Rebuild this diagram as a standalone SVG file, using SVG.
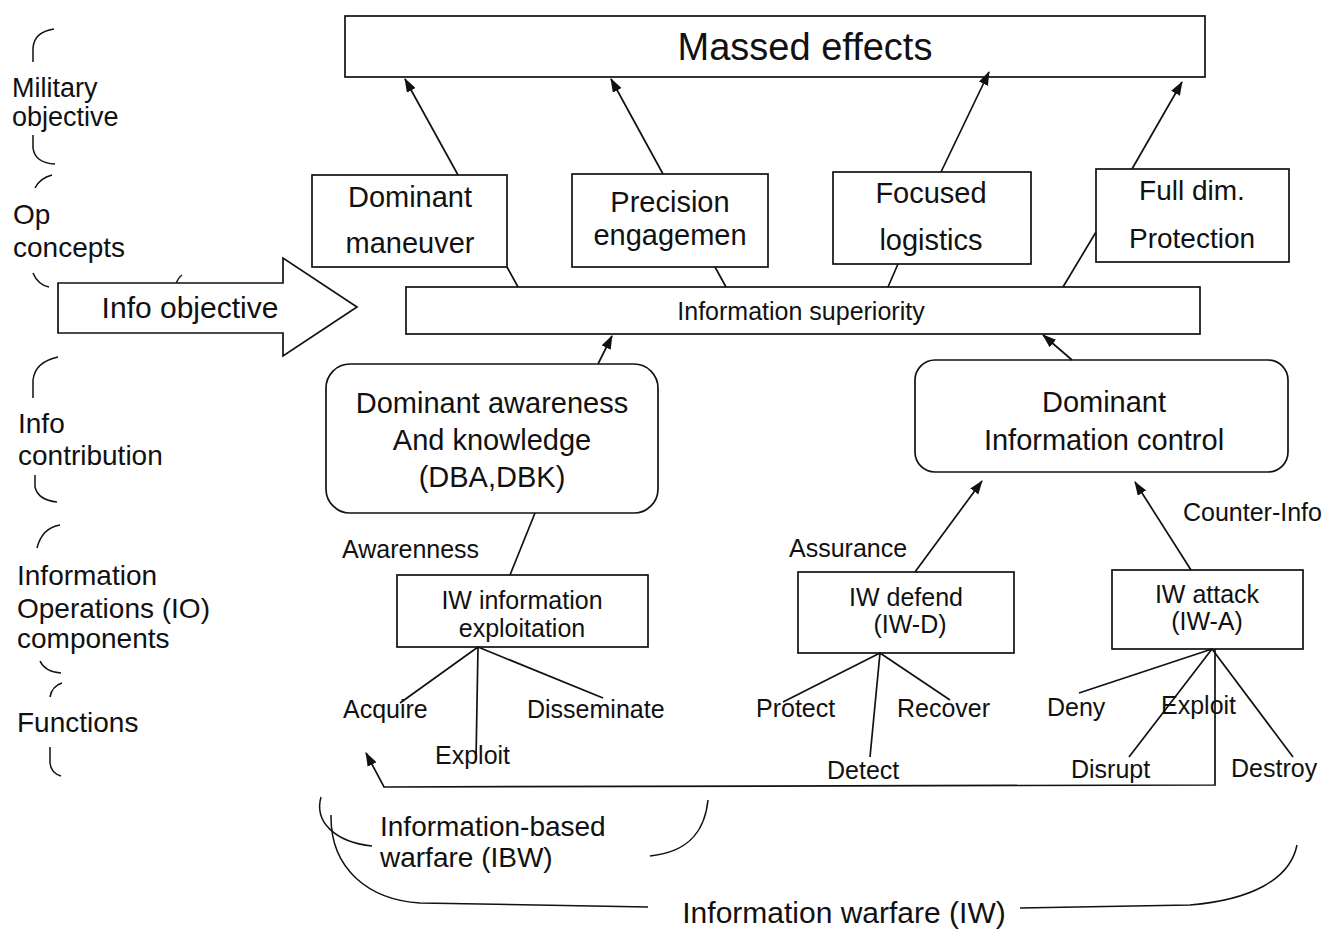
<svg xmlns="http://www.w3.org/2000/svg" width="1342" height="929" viewBox="0 0 1342 929">
<style>
.bx{fill:#fff;stroke:#111;stroke-width:1.7}
.ln{fill:none;stroke:#111;stroke-width:1.7}
.ar{marker-end:url(#ah)}
.br{fill:none;stroke:#111;stroke-width:1.5}
text{font-family:"Liberation Sans",Arial,sans-serif;fill:#111}
.c{text-anchor:middle}
.t38{font-size:38px}
.t30{font-size:30px}
.t29{font-size:29px}
.t28{font-size:28px}
.t27{font-size:27px}
.t25{font-size:25px}
</style>
<defs>
<marker id="ah" markerWidth="14" markerHeight="10" refX="13" refY="5" orient="auto" markerUnits="userSpaceOnUse">
<path d="M0,0 L14,5 L0,10 z" fill="#111"/>
</marker>
</defs>
<rect width="1342" height="929" fill="#fff"/>

<g id="labels">
<path class="br" d="M54,29 Q34,32 33,48 L33,62"/>
<text class="t27" x="12" y="97">Military</text>
<text class="t27" x="12" y="126">objective</text>
<path class="br" d="M33,135 L33,148 Q35,163 55,164"/>
<path class="br" d="M52,175 Q40,178 35,188"/>
<text class="t28" x="13" y="224">Op</text>
<text class="t28" x="13" y="257">concepts</text>
<path class="br" d="M33,273 Q38,285 49,287"/>
<path class="br" d="M176,284 Q178,278 182,275"/>
<path class="br" d="M58,357 Q35,362 33,380 L33,398"/>
<text class="t28" x="18" y="433">Info</text>
<text class="t28" x="18" y="465">contribution</text>
<path class="br" d="M35,475 L35,487 Q38,500 57,502"/>
<path class="br" d="M60,525 Q42,528 37,548"/>
<text class="t28" x="17" y="585">Information</text>
<text class="t28" x="17" y="618">Operations (IO)</text>
<text class="t28" x="17" y="648">components</text>
<path class="br" d="M40,661 Q45,672 61,673"/>
<path class="br" d="M62,683 Q52,686 50,697"/>
<text class="t28" x="17" y="732">Functions</text>
<path class="br" d="M50,747 L50,763 Q51,773 61,776"/>
</g>

<g id="massed-effects">
<rect class="bx" x="345" y="16" width="860" height="61"/>
<text class="t38 c" x="805" y="60">Massed effects</text>
</g>

<g id="dominant-maneuver">
<rect class="bx" x="312" y="175" width="195" height="92"/>
<text class="t29 c" x="410" y="207">Dominant</text>
<text class="t29 c" x="410" y="253">maneuver</text>
</g>
<g id="precision-engagement">
<rect class="bx" x="572" y="174" width="196" height="93"/>
<text class="t29 c" x="670" y="212">Precision</text>
<text class="t29 c" x="670" y="245">engagemen</text>
</g>
<g id="focused-logistics">
<rect class="bx" x="833" y="172" width="198" height="92"/>
<text class="t29 c" x="931" y="203">Focused</text>
<text class="t29 c" x="931" y="250">logistics</text>
</g>
<g id="full-dim-protection">
<rect class="bx" x="1096" y="169" width="193" height="93"/>
<text class="t28 c" x="1192" y="200">Full dim.</text>
<text class="t28 c" x="1192" y="248">Protection</text>
</g>

<g id="info-objective">
<polygon class="bx" points="58,283 283,283 283,258 357,307 283,356 283,333 58,333"/>
<text class="t30 c" x="190" y="318">Info objective</text>
</g>

<g id="information-superiority">
<rect class="bx" x="406" y="287" width="794" height="47"/>
<text class="t25 c" x="801" y="320">Information superiority</text>
</g>

<g id="dba-dbk">
<rect class="bx" x="326" y="364" width="332" height="149" rx="24"/>
<text class="t29 c" x="492" y="413">Dominant awareness</text>
<text class="t29 c" x="492" y="450">And knowledge</text>
<text class="t29 c" x="492" y="487">(DBA,DBK)</text>
</g>

<g id="dominant-information-control">
<rect class="bx" x="915" y="360" width="373" height="112" rx="20"/>
<text class="t29 c" x="1104" y="412">Dominant</text>
<text class="t29 c" x="1104" y="450">Information control</text>
</g>

<g id="iw-information-exploitation">
<rect class="bx" x="397" y="575" width="251" height="72"/>
<text class="t25 c" x="522" y="609">IW information</text>
<text class="t25 c" x="522" y="637">exploitation</text>
</g>
<g id="iw-defend">
<rect class="bx" x="798" y="572" width="216" height="81"/>
<text class="t25 c" x="906" y="606">IW defend</text>
<text class="t25 c" x="910" y="633">(IW-D)</text>
</g>
<g id="iw-attack">
<rect class="bx" x="1112" y="570" width="191" height="79"/>
<text class="t25 c" x="1207" y="603">IW attack</text>
<text class="t25 c" x="1207" y="630">(IW-A)</text>
</g>

<g id="functions">
<text class="t25" x="343" y="718">Acquire</text>
<text class="t25" x="435" y="764">Exploit</text>
<text class="t25" x="527" y="718">Disseminate</text>
<text class="t25" x="756" y="717">Protect</text>
<text class="t25" x="827" y="779">Detect</text>
<text class="t25" x="897" y="717">Recover</text>
<text class="t25" x="1047" y="716">Deny</text>
<text class="t25" x="1161" y="714">Exploit</text>
<text class="t25" x="1071" y="778">Disrupt</text>
<text class="t25" x="1231" y="777">Destroy</text>
</g>

<g id="connector-labels">
<text class="t25" x="342" y="558">Awarenness</text>
<text class="t25" x="789" y="557">Assurance</text>
<text class="t25" x="1183" y="521">Counter-Info</text>
</g>

<g id="connectors">
<path class="ln ar" d="M458,175 L405,79"/>
<path class="ln ar" d="M663,174 L611,79"/>
<path class="ln ar" d="M941,172 L989,72"/>
<path class="ln ar" d="M1132,169 L1182,82"/>
<path class="ln" d="M507,267 L518,287"/>
<path class="ln" d="M715,267 L726,287"/>
<path class="ln" d="M898,264 L888,287"/>
<path class="ln" d="M1096,232 L1063,287"/>
<path class="ln ar" d="M598,364 L612,336"/>
<path class="ln ar" d="M1072,360 L1043,335"/>
<path class="ln" d="M535,513 L510,575"/>
<path class="ln ar" d="M915,572 L982,481"/>
<path class="ln ar" d="M1191,570 L1135,482"/>
<path class="ln" d="M478,647 L400,703 M478,647 L476,760 M478,647 L603,698"/>
<path class="ln" d="M880,653 L783,702 M880,653 L870,757 M880,653 L950,700"/>
<path class="ln" d="M1212,649 L1079,693 M1212,649 L1129,757 M1212,649 L1293,757"/>
<path class="ln ar" d="M1215,649 L1215,785 L384,787 L366,753"/>
</g>

<g id="warfare-braces">
<path class="br" d="M321,797 C314,822 335,842 372,846"/>
<path class="br" d="M708,800 C705,830 690,852 650,856"/>
<text class="t28" x="380" y="836">Information-based</text>
<text class="t28" x="380" y="867">warfare (IBW)</text>
<path class="br" d="M331,815 C330,870 370,900 420,903 L648,907"/>
<path class="br" d="M1297,845 C1290,880 1250,900 1190,905 L1020,908"/>
<text class="t30 c" x="844" y="923">Information warfare (IW)</text>
</g>
</svg>
